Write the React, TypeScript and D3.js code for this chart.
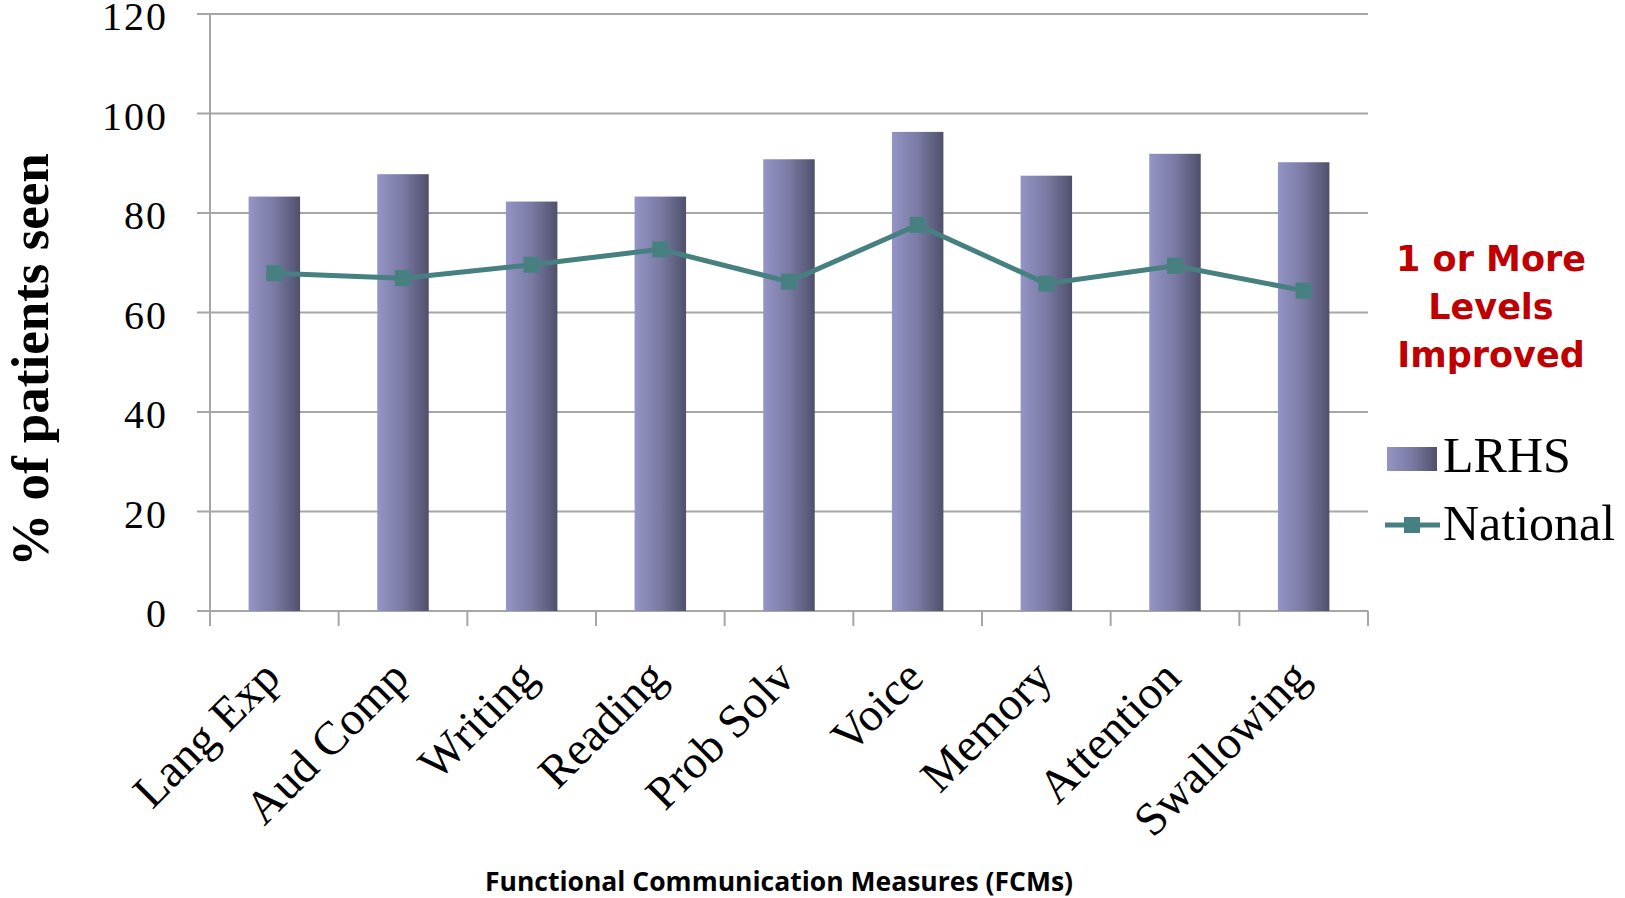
import React from 'react';
import * as d3 from 'd3';

// FCM categories and series values (% of patients seen)
const categories = ['Lang Exp', 'Aud Comp', 'Writing', 'Reading', 'Prob Solv', 'Voice', 'Memory', 'Attention', 'Swallowing'];
const lrhsValues = [83.3, 87.8, 82.3, 83.3, 90.8, 96.3, 87.5, 91.9, 90.2];
const nationalValues = [67.9, 66.9, 69.6, 72.7, 66.2, 77.6, 65.8, 69.4, 64.4];
const yTicks = [0, 20, 40, 60, 80, 100, 120];
const seriesNames = ['LRHS', 'National'];
const noteLines = ['1 or More', 'Levels', 'Improved'];

const W = 1625;
const H = 898;
const margin = { top: 14, right: 257, bottom: 287, left: 210 };

const serif = '"Liberation Serif", "Times New Roman", serif';
const gridColor = '#a6a6a6';
const lineColor = '#468080';

const App = () => {
  const x = d3.scaleBand<string>()
    .domain(categories)
    .range([margin.left, W - margin.right])
    .padding(0);

  const y = d3.scaleLinear()
    .domain([0, 120])
    .range([H - margin.bottom, margin.top]);

  const barW = x.bandwidth() * 0.4;
  const cx = (c: string) => (x(c) ?? 0) + x.bandwidth() / 2;

  const line = d3.line<number>()
    .x((d, i) => cx(categories[i]))
    .y(d => y(d));

  const boundaries = d3.range(categories.length + 1).map(i => margin.left + i * x.bandwidth());
  const x0 = margin.left;
  const x1 = W - margin.right;
  const y0 = y(0);

  return (
    <svg width={W} height={H} style={{ position: 'absolute', left: 0, top: 0, background: '#fff' }}>
      <defs>
        <linearGradient id="barGrad" x1="0" y1="0" x2="1" y2="0">
          <stop offset="0%" stopColor="#9494c6" />
          <stop offset="50%" stopColor="#7a7aa4" />
          <stop offset="100%" stopColor="#50506c" />
        </linearGradient>
      </defs>

      {/* gridlines + y ticks */}
      {yTicks.map(t => (
        <g key={t}>
          <line x1={x0 - 13} x2={x1} y1={y(t)} y2={y(t)} stroke={gridColor} strokeWidth={2} />
          <text x={168} y={y(t) + 16} textAnchor="end" fontFamily={serif} fontSize={40}
            letterSpacing={2} fill="#000">{t}</text>
        </g>
      ))}

      {/* y axis */}
      <line x1={x0} x2={x0} y1={y(120)} y2={y0 + 15} stroke={gridColor} strokeWidth={2} />

      {/* x ticks */}
      {boundaries.map((b, i) => (
        <line key={i} x1={b} x2={b} y1={y0} y2={y0 + 15} stroke={gridColor} strokeWidth={2} />
      ))}

      {/* bars */}
      {categories.map((c, i) => (
        <rect key={c} x={cx(c) - barW / 2} y={y(lrhsValues[i])} width={barW} height={y0 - y(lrhsValues[i])} fill="url(#barGrad)" />
      ))}

      {/* national line */}
      <path d={line(nationalValues) ?? ''} fill="none" stroke={lineColor} strokeWidth={5} />
      {nationalValues.map((v, i) => (
        <rect key={i} x={cx(categories[i]) - 8} y={y(v) - 8} width={16} height={16} fill={lineColor} />
      ))}

      {/* category labels */}
      {categories.map(c => (
        <text key={c} transform={`translate(${cx(c) + 8},680) rotate(-45)`} textAnchor="end"
          fontFamily={serif} fontSize={47} fill="#000">{c}</text>
      ))}

      {/* axis titles */}
      <text transform="translate(48,360) rotate(-90)" textAnchor="middle" fontFamily={serif}
        fontWeight="bold" fontSize={53} fill="#000">% of patients seen</text>
      <text x={779} y={891} textAnchor="middle" fontFamily='"Open Sans", sans-serif' fontWeight="bold"
        fontSize={26.5} fill="#000">Functional Communication Measures (FCMs)</text>

      {/* note */}
      {noteLines.map((s, i) => (
        <text key={s} x={1491} y={271 + i * 48} textAnchor="middle" fontFamily='"DejaVu Sans", sans-serif'
          fontWeight="bold" fontSize={35} fill="#c00000">{s}</text>
      ))}

      {/* legend */}
      <rect x={1387} y={447} width={50} height={24} fill="url(#barGrad)" />
      <text x={1443} y={472} fontFamily={serif} fontSize={50} fill="#000">{seriesNames[0]}</text>
      <line x1={1385} x2={1440} y1={525} y2={525} stroke={lineColor} strokeWidth={5} />
      <rect x={1404} y={517} width={16} height={16} fill={lineColor} />
      <text x={1443} y={540} fontFamily={serif} fontSize={50} fill="#000">{seriesNames[1]}</text>
    </svg>
  );
};

export default App;
